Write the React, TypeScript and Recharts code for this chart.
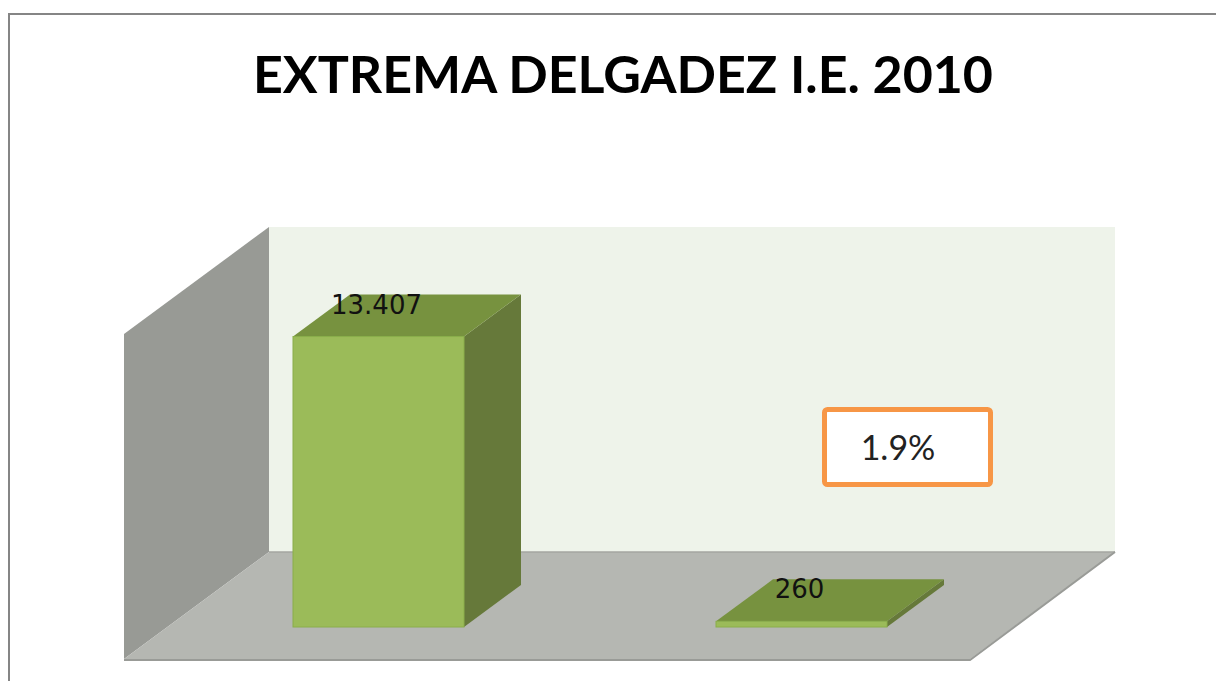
import React from 'react';
import { BarChart, Bar, XAxis, YAxis, LabelList } from 'recharts';

const categories = ['Total evaluados', 'Extrema delgadez'];
const values = [13407, 260];
const yDomain: [number, number] = [0, 15000];
const title = 'EXTREMA DELGADEZ I.E. 2010';
const percentLabel = '1.9%';

const data = categories.map((c, i) => ({ name: c, value: values[i] }));

const W = 1216;
const H = 681;
const margin = { top: 294, right: 211, bottom: 62, left: 159 };
const plot = { x: margin.left, y: margin.top, w: W - margin.left - margin.right, h: H - margin.top - margin.bottom };
const back = { dx: 102, dy: -75 };
const front = { dx: -43, dy: 32 };
const depth = { dx: 57, dy: -42 };

const fmt = (v: number) => v.toString().replace(/\B(?=(\d{3})+(?!\d))/g, '.');

const Bar3D = (props: any) => {
  const { x, y, width, height } = props;
  const { dx, dy } = depth;
  return (
    <g>
      <polygon
        points={`${x + width},${y} ${x + width + dx},${y + dy} ${x + width + dx},${y + height + dy} ${x + width},${y + height}`}
        fill="#66793A"
      />
      <polygon
        points={`${x},${y} ${x + dx},${y + dy} ${x + width + dx},${y + dy} ${x + width},${y}`}
        fill="#77923F"
      />
      <rect x={x} y={y} width={width} height={Math.max(height, 1)} fill="#9BBB59" stroke="#8AAE4A" strokeWidth={1} />
    </g>
  );
};

const renderLabel = (props: any) => {
  const { x, y, width, value } = props;
  return (
    <text
      x={x + width / 2 - 2}
      y={y - 23}
      textAnchor="middle"
      fontFamily="'DejaVu Sans', sans-serif"
      fontSize={26}
      fill="#111"
    >
      {fmt(value)}
    </text>
  );
};

const Walls = () => {
  const bx = plot.x + back.dx;
  const by = plot.y + back.dy;
  const fx = plot.x + front.dx;
  const fy = plot.y + front.dy;
  const bottomBack = by + plot.h;
  const bottomFront = fy + plot.h;
  return (
    <svg width={W} height={H} style={{ position: 'absolute', left: 0, top: 0 }}>
      <rect x={bx} y={by} width={plot.w} height={plot.h} fill="#EEF3EA" />
      <polygon
        points={`${fx},${fy} ${fx},${bottomFront} ${bx},${bottomBack} ${bx},${by}`}
        fill="#989A95"
      />
      <polygon
        points={`${fx},${bottomFront} ${fx + plot.w},${bottomFront} ${bx + plot.w},${bottomBack} ${bx},${bottomBack}`}
        fill="#B5B7B2"
      />
      <line x1={bx} y1={bottomBack} x2={bx + plot.w} y2={bottomBack} stroke="#A4A6A1" strokeWidth={1.5} />
      <polyline
        points={`${fx},${bottomFront + 1} ${fx + plot.w},${bottomFront + 1} ${bx + plot.w},${bottomBack}`}
        fill="none"
        stroke="#999B97"
        strokeWidth={2}
      />
    </svg>
  );
};

export default function App() {
  return (
    <div style={{ position: 'relative', width: W, height: H, overflow: 'hidden', marginBottom: -8, background: '#fff' }}>
      <div
        style={{
          position: 'absolute',
          left: 0,
          top: 5,
          width: 1260,
          height: 720,
          border: '2px solid #858585',
          boxSizing: 'border-box',
        }}
      />
      <Walls />
      <div style={{ position: 'absolute', left: 0, top: 0 }}>
        <BarChart width={W} height={H} data={data} margin={margin} barSize={171}>
          <XAxis dataKey="name" hide />
          <YAxis domain={yDomain} hide />
          <Bar dataKey="value" shape={<Bar3D />} isAnimationActive={false}>
            <LabelList dataKey="value" content={renderLabel} />
          </Bar>
        </BarChart>
      </div>
      <svg width={W} height={H} style={{ position: 'absolute', left: 0, top: 0, pointerEvents: 'none' }}>
        <text
          x={615}
          y={85}
          textAnchor="middle"
          fontFamily="Lato, 'Open Sans', sans-serif"
          fontWeight={700}
          fontSize={51}
          textLength={740}
          lengthAdjust="spacingAndGlyphs"
          fill="#000"
        >
          {title}
        </text>
        <rect x={816.5} y={401.5} width={166} height={75} rx={3} fill="#fff" stroke="#F79646" strokeWidth={5} />
        <text
          x={890}
          y={452}
          textAnchor="middle"
          fontFamily="Lato, 'Open Sans', sans-serif"
          fontSize={34}
          fontWeight={400}
          fill="#222"
        >
          {percentLabel}
        </text>
      </svg>
    </div>
  );
}
